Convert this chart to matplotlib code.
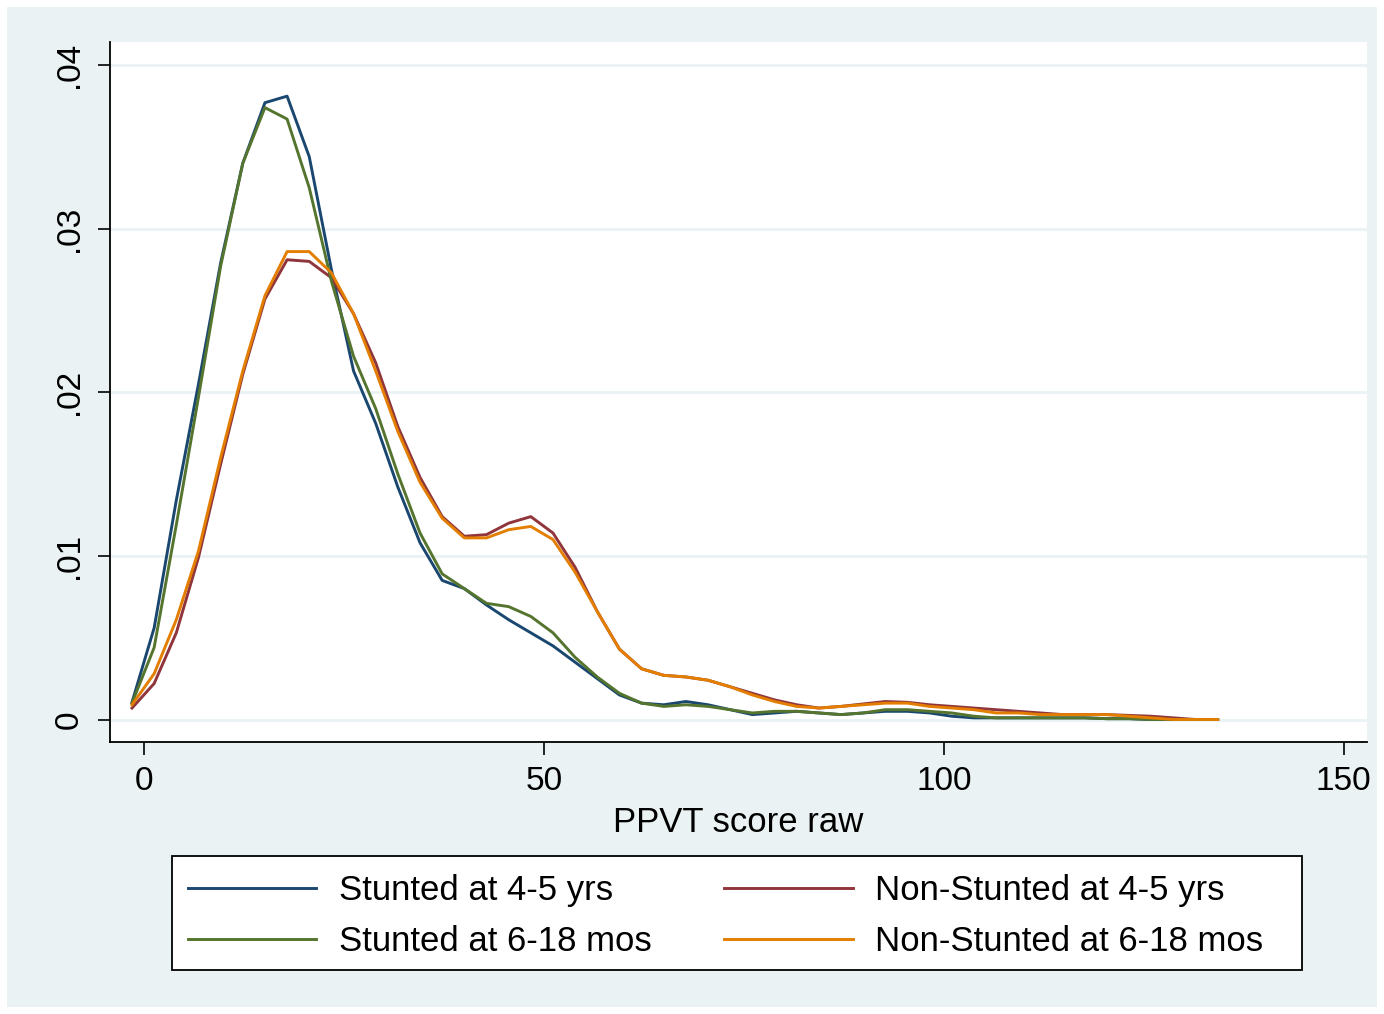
import numpy as np
import matplotlib
matplotlib.use("Agg")
import matplotlib.pyplot as plt
from matplotlib.patches import Rectangle

# ── Data (kdensity grid) ─────────────────────────────────
ppvt = [-1.5, 1.27, 4.04, 6.81, 9.58, 12.35, 15.12, 17.89, 20.66, 23.43,
        26.2, 28.97, 31.74, 34.51, 37.28, 40.05, 42.82, 45.59, 48.36, 51.13,
        53.9, 56.67, 59.44, 62.21, 64.98, 67.75, 70.52, 73.29, 76.06, 78.83,
        81.6, 84.37, 87.14, 89.91, 92.68, 95.45, 98.22, 100.99, 103.76, 106.53,
        109.3, 112.07, 114.84, 117.61, 120.38, 123.15, 125.92, 128.69, 131.46, 134.23]

stunted_45 = [0.00105, 0.0056, 0.0134, 0.0205, 0.0279, 0.0340, 0.0377, 0.0381, 0.0344, 0.0275,
              0.0213, 0.0181, 0.0142, 0.0108, 0.0085, 0.0080, 0.0070, 0.0061, 0.0053, 0.0045,
              0.0035, 0.0025, 0.0015, 0.0010, 0.0009, 0.0011, 0.0009, 0.0006, 0.0003, 0.0004,
              0.0005, 0.0004, 0.0003, 0.0004, 0.0005, 0.0005, 0.0004, 0.0002, 0.0001, 0.0001,
              0.0001, 0.0001, 0.0001, 0.0001, 0.00005, 0.00005, 0.0, 0.0, 0.0, 0.0]

nonstunted_45 = [0.0007, 0.0022, 0.0053, 0.0099, 0.0156, 0.0211, 0.0257, 0.0281, 0.0280, 0.0270,
                 0.0248, 0.0218, 0.0179, 0.0148, 0.0124, 0.0112, 0.0113, 0.0120, 0.0124, 0.0114,
                 0.0093, 0.0066, 0.0043, 0.0031, 0.0027, 0.0026, 0.0024, 0.0020, 0.0016, 0.0012,
                 0.0009, 0.0007, 0.0008, 0.00095, 0.0011, 0.00105, 0.0009, 0.0008, 0.0007, 0.0006,
                 0.0005, 0.0004, 0.0003, 0.0003, 0.0003, 0.00025, 0.0002, 0.0001, 0.0, 0.0]

stunted_618 = [0.0010, 0.0044, 0.0119, 0.0197, 0.0277, 0.0340, 0.0374, 0.0367, 0.0325, 0.0268,
               0.0222, 0.0190, 0.0150, 0.0114, 0.0089, 0.0080, 0.0071, 0.0069, 0.0063, 0.0053,
               0.0038, 0.0026, 0.0016, 0.0010, 0.0008, 0.0009, 0.0008, 0.0006, 0.0004, 0.0005,
               0.0005, 0.0004, 0.0003, 0.0004, 0.0006, 0.0006, 0.0005, 0.0004, 0.0002, 0.0001,
               0.0001, 0.0001, 0.0001, 0.0001, 0.00005, 0.00005, 0.0, 0.0, 0.0, 0.0]

nonstunted_618 = [0.0009, 0.0028, 0.0061, 0.0103, 0.0160, 0.0213, 0.0259, 0.0286, 0.0286, 0.0273,
                  0.0248, 0.0213, 0.0176, 0.0145, 0.0123, 0.0111, 0.0111, 0.0116, 0.0118, 0.0110,
                  0.0090, 0.0066, 0.0043, 0.0031, 0.0027, 0.0026, 0.0024, 0.0020, 0.0015, 0.0011,
                  0.0008, 0.0007, 0.0008, 0.0009, 0.0010, 0.0010, 0.0008, 0.0007, 0.0006, 0.0004,
                  0.0004, 0.0003, 0.0003, 0.0003, 0.0003, 0.0002, 0.0001, 0.0, 0.0, 0.0]

series_labels = ["Stunted at 4-5 yrs", "Non-Stunted at 4-5 yrs",
                 "Stunted at 6-18 mos", "Non-Stunted at 6-18 mos"]
x_ticks = [0, 50, 100, 150]
y_ticks = [0, 0.01, 0.02, 0.03, 0.04]
y_ticklabels = ["0", ".01", ".02", ".03", ".04"]

# ── Style ────────────────────────────────────────────────
plt.rcParams["font.family"] = ["Liberation Sans", "DejaVu Sans"]
BG = "#eaf2f3"
colors = ["#1a476f", "#90353b", "#55752f", "#e37e00"]
W, H = 1384, 1014

fig = plt.figure(figsize=(W / 100, H / 100), dpi=100, facecolor="white")
fig.patches.append(Rectangle((7 / W, 7 / H), 1370 / W, 1000 / H,
                             transform=fig.transFigure, facecolor=BG,
                             edgecolor="none", zorder=-10))

ax = fig.add_axes([110 / W, 1 - 742 / H, 1257 / W, 700 / H])
ax.set_zorder(1)
ax.set_facecolor("white")

lines = []
for ys, c, lab in zip([stunted_45, nonstunted_45, stunted_618, nonstunted_618],
                      colors, series_labels):
    ln, = ax.plot(ppvt, ys, color=c, lw=2.1, label=lab, zorder=3)
    lines.append(ln)

ax.set_xlim(-4.25, 152.9)
ax.set_ylim(-0.001375, 0.04141)

ax.set_xticks(x_ticks)
ax.set_yticks(y_ticks)
ax.set_yticklabels(y_ticklabels, rotation=90, va="center")
ax.tick_params(axis="both", length=9, width=1.2, color="black",
               labelsize=24, direction="out")
ax.tick_params(axis="x", pad=8)
ax.tick_params(axis="y", pad=9)

for y in y_ticks:
    ax.axhline(y, color=BG, lw=2, zorder=1)

for side in ["top", "right"]:
    ax.spines[side].set_visible(False)
for side in ["left", "bottom"]:
    ax.spines[side].set_linewidth(1.3)
    ax.spines[side].set_color("black")

ax.set_xlabel("PPVT score raw", fontsize=25, labelpad=7)

# legend box drawn by hand, entries filled Stata-style (1,2 / 3,4)
fig.patches.append(Rectangle((172 / W, 1 - 970 / H), 1130 / W, 114 / H,
                             transform=fig.transFigure, facecolor="white",
                             edgecolor="black", linewidth=1.3, zorder=2))
order = [0, 2, 1, 3]
leg = fig.legend([lines[i] for i in order], [series_labels[i] for i in order],
                 loc="center", bbox_to_anchor=(725.5 / W, 1 - 916 / H),
                 ncol=2, fontsize=25, frameon=False,
                 handlelength=3.7, handletextpad=0.65, columnspacing=2.1,
                 labelspacing=0.52, borderpad=0.0)
leg.set_zorder(3)

fig.savefig("out.png", dpi=100, facecolor=fig.get_facecolor())
